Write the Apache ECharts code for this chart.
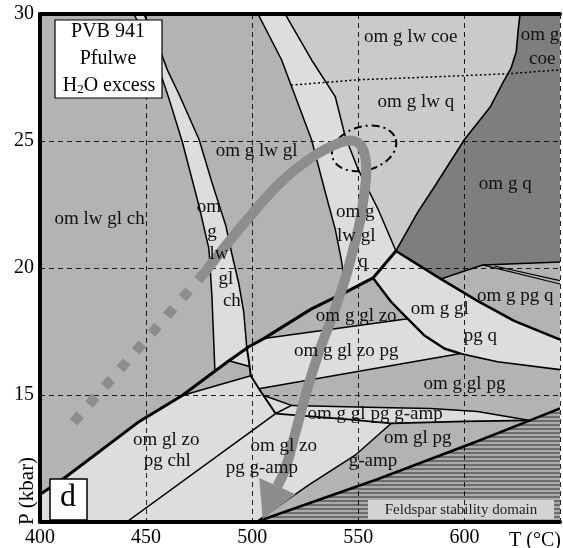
<!DOCTYPE html>
<html>
<head>
<meta charset="utf-8">
<title>PVB 941 Pfulwe – P–T pseudosection</title>
<script src="https://cdn.jsdelivr.net/npm/echarts@6.0.0/dist/echarts.min.js"></script>
<style>
html, body { margin: 0; padding: 0; background: #ffffff; }
#chart { width: 563px; height: 548px; }
</style>
</head>
<body>
<div id="chart"></div>
<script>
// ---- axis ticks ----
const tempTicks = [400, 450, 500, 550, 600];
const presTicks = [15, 20, 25, 30];

// ---- field boundaries, points are [T (°C), P (kbar)] ----
const leftBandLeft = [[443.6, 30.1], [450.6, 28.98], [456.2, 27.80], [460.9, 26.63], [467.0, 24.98], [474.95, 22.43], [479.6, 20.75], [481.0, 18.90], [482.4, 15.96]];
const leftBandRight = [[448.3, 30.1], [454.8, 28.98], [460.0, 27.80], [465.6, 26.82], [474.95, 25.06], [481.0, 23.37], [487.6, 21.65], [490.4, 20.55], [493.7, 19.37], [496.0, 18.27], [497.4, 16.88]];
const leftBandTail = [[497.4, 16.88], [498.4, 16.35], [499.3, 15.76], [504.0, 15.14], [511.0, 14.27]];
const middleBandLeft = [[502.1, 30.1], [513.8, 28.20], [527.9, 25.06], [534.4, 22.98], [539.1, 21.53], [541.9, 20.35], [544.3, 19.06]];
const middleBandRight = [[514.8, 30.1], [527.9, 28.20], [539.1, 26.75], [543.8, 25.18], [549.9, 23.88], [559.3, 22.31], [567.7, 20.67]];
const quartzEdge = [[567.7, 20.67], [578.0, 22.20], [586.0, 23.22], [600.0, 25.06], [612.2, 26.35], [618.3, 27.33], [622.0, 27.88], [624.4, 28.51], [625.3, 29.37], [626.3, 30.1]];
const coesiteQuartz = [[518.3, 27.2], [549.9, 27.41], [587.4, 27.53], [621.1, 27.65], [645, 27.80]];
const lawsoniteOut = [[400, 11.08], [412.6, 11.80], [446.8, 13.96], [467.0, 14.98], [489.0, 16.35], [498.4, 16.90], [505.4, 17.22], [527.9, 18.39], [544.3, 19.06], [556.9, 19.61], [567.7, 20.67]];
const glaucoEdge = [[567.7, 20.67], [588.8, 19.57], [606.1, 18.71], [623.4, 17.92], [645, 17.18]];
const zoisiteOut = [[556.9, 19.61], [565.4, 18.67], [573.3, 18.0], [581.3, 17.33], [590.7, 16.82], [598.2, 16.63]];
const quartzOut = [[598.2, 16.63], [615.5, 16.31], [645, 16.0]];
const darkBase = [[588.8, 19.57], [608.5, 20.12], [645, 20.24]];
const pgqSplitA = [[608.5, 20.12], [645, 19.37]];
const pgqSplitB = [[614.1, 20.08], [645, 19.50]];
const zoBase = [[505.4, 17.22], [573.3, 18.0]];
const zoPgBase = [[503.1, 15.25], [598.2, 16.63]];
const chlWedgeBase = [[467.0, 14.98], [499.3, 15.76]];
const chlWedgeTop = [[489.0, 16.35], [498.8, 16.12]];
const ampTriangle = [[505.4, 14.98], [518.5, 14.59], [511.0, 14.27]];
const ampStripTop = [[518.5, 14.59], [559.3, 14.51], [584.1, 14.47], [606.1, 14.35], [630.9, 14.0]];
const ampStripBase = [[511.0, 14.27], [545.2, 14.04], [565.4, 13.88], [600.0, 13.96], [630.9, 14.0]];
const chloriteOut = [[511.0, 14.27], [440.8, 10.0]];
const zoisiteOutLow = [[565.4, 13.88], [548.5, 12.63], [526.5, 11.45], [501.7, 10.0]];
const feldsparIn = [[501.7, 10.0], [559.3, 11.69], [606.1, 13.18], [630.9, 14.0], [645, 14.47]];

// ---- P–T path and peak estimate ----
const pathProgradeDashed = [[415.8, 13.93], [477.4, 19.80]];
const pathSolid = [[477.4, 19.80], [488.1, 20.94], [497.0, 21.84], [512.4, 23.29], [527.9, 24.35], [539.1, 24.86], [546.2, 25.02], [550.8, 24.86], [553.2, 24.39], [553.7, 23.69], [552.7, 22.90], [550.8, 21.84], [547.6, 20.75], [543.8, 19.57], [537.3, 18.0], [531.2, 16.63], [526.0, 15.25], [520.9, 13.69], [515.7, 12.12], [504.9, 10.12]];
const peakCentre = [552.7, 24.71];
const peakRadii = [15.5, 0.86];

// ---- field labels: [T, P, text] ----
const fieldLabels = [
  [574.7, 29.10, 'om g lw coe'],
  [635.6, 29.18, 'om g'],
  [636.6, 28.24, 'coe'],
  [577.1, 26.55, 'om g lw q'],
  [502.1, 24.59, 'om g lw gl'],
  [619.2, 23.29, 'om g q'],
  [428.1, 21.92, 'om lw gl ch'],
  [479.6, 22.39, 'om'],
  [481.0, 21.41, 'g'],
  [484.3, 20.55, 'lw'],
  [487.6, 19.57, 'gl'],
  [490.4, 18.71, 'ch'],
  [548.5, 22.20, 'om g'],
  [549.0, 21.25, 'lw gl'],
  [552.2, 20.24, 'q'],
  [549.0, 18.12, 'om g gl zo'],
  [544.3, 16.75, 'om g gl zo pg'],
  [588.3, 18.39, 'om g gl'],
  [607.5, 17.33, 'pg q'],
  [623.9, 18.90, 'om g pg q'],
  [600.0, 15.45, 'om g gl pg'],
  [557.9, 14.27, 'om g gl pg g-amp'],
  [578.0, 13.29, 'om gl pg'],
  [556.9, 12.39, 'g-amp'],
  [459.5, 13.22, 'om gl zo'],
  [460.0, 12.39, 'pg chl'],
  [514.8, 12.98, 'om gl zo'],
  [504.5, 12.12, 'pg g-amp']
];

// ---- shades ----
const MED = '#b3b3b3';
const LIGHT = '#dddddd';
const PALE = '#cacaca';
const DARK = '#7e7e7e';
const INK = '#000000';
const PATH = '#8d8d8d';
const SERIF = '"Liberation Serif", "DejaVu Serif", serif';

// striped fill for the feldspar field
const stripeCanvas = document.createElement('canvas');
stripeCanvas.width = 8; stripeCanvas.height = 4;
(function () {
  const c = stripeCanvas.getContext('2d');
  c.fillStyle = '#aaaaaa'; c.fillRect(0, 0, 8, 4);
  c.fillStyle = '#6c6c6c'; c.fillRect(0, 0, 8, 2);
})();

const rev = a => a.slice().reverse();

const fillRegions = [
  { pts: [[400, 10], [645, 10], [645, 30.1], [400, 30.1]], fill: MED },
  { pts: [...leftBandLeft, [489.0, 16.35], ...rev(leftBandRight)], fill: LIGHT },
  { pts: [...middleBandLeft, [556.9, 19.61], ...rev(middleBandRight)], fill: LIGHT },
  { pts: [...middleBandRight, ...quartzEdge.slice(1)], fill: PALE },
  { pts: [...quartzEdge, [645, 30.1], [645, 20.24], [608.5, 20.12], [588.8, 19.57]], fill: DARK },
  { pts: [...lawsoniteOut, ...glaucoEdge.slice(1), [645, 10], [400, 10]], fill: LIGHT },
  { pts: [[505.4, 17.22], [527.9, 18.39], [544.3, 19.06], [556.9, 19.61], [565.4, 18.67], [573.3, 18.0]], fill: MED },
  { pts: [[467.0, 14.98], [489.0, 16.35], [498.8, 16.12], [499.3, 15.76]], fill: MED },
  { pts: [[503.1, 15.25], [598.2, 16.63], ...quartzOut.slice(1), [645, 14.47], ...rev(ampStripTop), [505.4, 14.98]], fill: MED },
  { pts: [...ampStripBase.slice(2), ...rev(feldsparIn.slice(0, 4)).slice(1), ...rev(zoisiteOutLow).slice(1, 3)], fill: MED },
  { pts: [...feldsparIn, [645, 10]], fill: '#8a8a8a' },
  { pts: [...feldsparIn, [645, 10]], fill: { image: stripeCanvas, repeat: 'repeat' } }
];

const boundaryLines = [
  { pts: leftBandLeft, w: 1.5 },
  { pts: leftBandRight, w: 1.5 },
  { pts: leftBandTail, w: 2 },
  { pts: middleBandLeft, w: 1.5 },
  { pts: middleBandRight, w: 1.5 },
  { pts: quartzEdge, w: 1.6 },
  { pts: darkBase, w: 1.5 },
  { pts: pgqSplitA, w: 1.2 },
  { pts: pgqSplitB, w: 1.2 },
  { pts: zoBase, w: 1.5 },
  { pts: zoPgBase, w: 1.5 },
  { pts: chlWedgeBase, w: 1.5 },
  { pts: chlWedgeTop, w: 1.5 },
  { pts: ampTriangle, w: 1.5 },
  { pts: ampStripTop, w: 1.5 },
  { pts: ampStripBase, w: 1.8 },
  { pts: chloriteOut, w: 1.5 },
  { pts: zoisiteOutLow, w: 1.5 },
  { pts: quartzOut, w: 1.6 },
  { pts: zoisiteOut, w: 2.4 },
  { pts: glaucoEdge, w: 2.6 },
  { pts: lawsoniteOut, w: 3 },
  { pts: feldsparIn, w: 2.6 },
  { pts: coesiteQuartz, w: 1.5, dash: [2, 2.5] }
];

const chart = echarts.init(document.getElementById('chart'), null, { renderer: 'canvas' });

const option = {
  backgroundColor: '#ffffff',
  animation: false,
  grid: { left: 40, right: 0, top: 14, bottom: 24, show: false },
  xAxis: [
    {
      type: 'value', min: 400, max: 645, interval: 50, position: 'bottom', z: 2,
      axisLine: { show: true, onZero: false, lineStyle: { color: INK, width: 4 } },
      axisTick: { show: false },
      axisLabel: {
        color: INK, fontSize: 20, fontFamily: SERIF, margin: 6,
        formatter: v => (tempTicks.includes(v) ? String(v) : '')
      },
      splitLine: { show: true, lineStyle: { color: INK, width: 1, type: [5, 4], opacity: 0.85 } }
    },
    {
      type: 'value', min: 400, max: 645, position: 'top', z: 2,
      axisLine: { show: true, onZero: false, lineStyle: { color: INK, width: 4 } },
      axisTick: { show: false }, axisLabel: { show: false }, splitLine: { show: false }
    }
  ],
  yAxis: {
    type: 'value', min: 10, max: 30, interval: 5, z: 2,
    axisLine: { show: true, onZero: false, lineStyle: { color: INK, width: 4 } },
    axisTick: { show: false },
    axisLabel: {
      color: INK, fontSize: 20, fontFamily: SERIF, margin: 6,
      formatter: v => (presTicks.includes(v) ? String(v) : '')
    },
    splitLine: { show: true, lineStyle: { color: INK, width: 1, type: [5, 4], opacity: 0.85 } }
  },
  graphic: [
    { type: 'rect', z: 100, shape: { x: 55, y: 20, width: 107, height: 78 }, style: { fill: '#ffffff', stroke: INK, lineWidth: 1.2 } },
    { type: 'text', z: 101, x: 108, y: 32, style: { text: 'PVB 941', font: '20px ' + SERIF, fill: INK, align: 'center', verticalAlign: 'middle', textAlign: 'center', textVerticalAlign: 'middle' } },
    { type: 'text', z: 101, x: 108, y: 59, style: { text: 'Pfulwe', font: '20px ' + SERIF, fill: INK, align: 'center', verticalAlign: 'middle', textAlign: 'center', textVerticalAlign: 'middle' } },
    {
      type: 'text', z: 101, x: 109, y: 86,
      style: {
        text: 'H{s|2}O excess', font: '20px ' + SERIF, fill: INK, align: 'center', verticalAlign: 'middle', textAlign: 'center', textVerticalAlign: 'middle',
        rich: { s: { fontSize: 13, fontFamily: SERIF, verticalAlign: 'bottom', lineHeight: 14 } }
      }
    },
    { type: 'rect', z: 100, shape: { x: 50, y: 479, width: 37, height: 41 }, style: { fill: '#ffffff', stroke: INK, lineWidth: 1.5 } },
    { type: 'text', z: 101, x: 68, y: 498, style: { text: 'd', font: '32px ' + SERIF, fill: INK, align: 'center', verticalAlign: 'middle', textAlign: 'center', textVerticalAlign: 'middle' } },
    { type: 'rect', z: 1.5, shape: { x: 368, y: 500, width: 186, height: 19 }, style: { fill: '#d3d3d3' } },
    { type: 'text', z: 1.6, x: 461, y: 510, style: { text: 'Feldspar stability domain', font: '15px ' + SERIF, fill: '#222', align: 'center', verticalAlign: 'middle', textAlign: 'center', textVerticalAlign: 'middle' } },
    { type: 'text', z: 101, x: 509, y: 541, style: { text: 'T (°C)', font: '20px ' + SERIF, fill: INK, align: 'left', verticalAlign: 'middle', textAlign: 'left', textVerticalAlign: 'middle' } },
    { type: 'text', z: 101, x: 27, y: 491, rotation: Math.PI / 2, style: { text: 'P (kbar)', font: '21px ' + SERIF, fill: INK, align: 'center', verticalAlign: 'middle', textAlign: 'center', textVerticalAlign: 'middle' } }
  ],
  series: [
    {
      type: 'custom', name: 'fields', z: 1, clip: true, silent: true,
      data: fillRegions.map((r, i) => [r.pts[0][0], r.pts[0][1], i]),
      renderItem: (params, api) => {
        const r = fillRegions[params.dataIndex];
        return { type: 'polygon', shape: { points: r.pts.map(p => api.coord(p)) }, style: { fill: r.fill } };
      }
    },
    {
      type: 'custom', name: 'boundaries', z: 3, clip: true, silent: true,
      data: boundaryLines.map((l, i) => [l.pts[0][0], l.pts[0][1], i]),
      renderItem: (params, api) => {
        const l = boundaryLines[params.dataIndex];
        return {
          type: 'polyline', shape: { points: l.pts.map(p => api.coord(p)) },
          style: { stroke: INK, lineWidth: l.w, fill: null, lineDash: l.dash || null, lineJoin: 'round' }
        };
      }
    },
    {
      type: 'custom', name: 'peak', z: 4, silent: true,
      data: [[peakCentre[0], peakCentre[1]]],
      renderItem: (params, api) => {
        const c = api.coord(peakCentre);
        const r = api.size(peakRadii);
        const tilt = -16 * Math.PI / 180;
        const pts = [];
        for (let k = 0; k < 72; k++) {
          const t = (k / 72) * Math.PI * 2;
          const ex = r[0] * Math.cos(t), ey = r[1] * Math.sin(t);
          pts.push([c[0] + ex * Math.cos(tilt) - ey * Math.sin(tilt), c[1] + ex * Math.sin(tilt) + ey * Math.cos(tilt)]);
        }
        return { type: 'polygon', shape: { points: pts }, style: { fill: null, stroke: INK, lineWidth: 2, lineDash: [8, 4, 2, 4] } };
      }
    },
    {
      type: 'custom', name: 'path', z: 5, silent: true,
      data: [[pathSolid[0][0], pathSolid[0][1]]],
      renderItem: (params, api) => {
        const dashed = pathProgradeDashed.map(p => api.coord(p));
        const solid = pathSolid.map(p => api.coord(p));
        const tip = solid[solid.length - 1];
        const prev = solid[solid.length - 2];
        const dx = tip[0] - prev[0], dy = tip[1] - prev[1];
        const len = Math.hypot(dx, dy);
        const ux = dx / len, uy = dy / len;
        const headLen = 36, headHalf = 20;
        const base = [tip[0] - ux * headLen, tip[1] - uy * headLen];
        const shaft = solid.slice(0, -1).concat([base]);
        return {
          type: 'group',
          children: [
            { type: 'polyline', shape: { points: dashed }, style: { stroke: PATH, lineWidth: 10, fill: null, lineDash: [10, 13.6], lineCap: 'butt' } },
            { type: 'polyline', shape: { points: shaft, smooth: 0.35 }, style: { stroke: PATH, lineWidth: 10, fill: null, lineJoin: 'round' } },
            { type: 'polygon', shape: { points: [tip, [base[0] - uy * headHalf, base[1] + ux * headHalf], [base[0] + uy * headHalf, base[1] - ux * headHalf]] }, style: { fill: PATH } }
          ]
        };
      }
    },
    {
      type: 'custom', name: 'labels', z: 6, silent: true,
      data: fieldLabels.map(d => [d[0], d[1]]),
      renderItem: (params, api) => {
        const d = fieldLabels[params.dataIndex];
        const p = api.coord([d[0], d[1]]);
        return {
          type: 'text', x: p[0], y: p[1],
          style: { text: d[2], font: '19px ' + SERIF, fill: '#111', align: 'center', verticalAlign: 'middle', textAlign: 'center', textVerticalAlign: 'middle' }
        };
      }
    }
  ]
};

chart.setOption(option);
</script>
</body>
</html>
